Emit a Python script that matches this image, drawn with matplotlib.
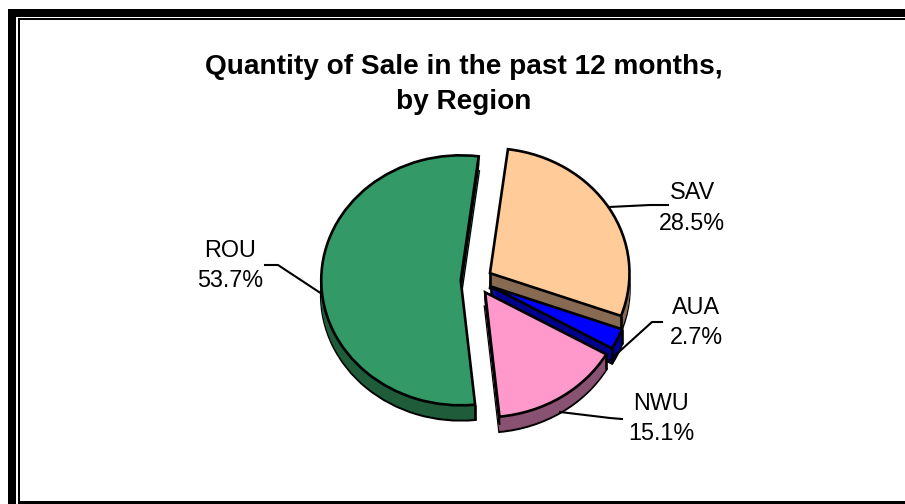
import matplotlib
matplotlib.use("Agg")
import numpy as np
import matplotlib.pyplot as plt
from matplotlib.lines import Line2D
from matplotlib.patches import Rectangle

regions = ["SAV", "AUA", "NWU", "ROU"]
shares = [28.5, 2.7, 15.1, 53.7]
top_colors = ["#FFCC99", "#0000FF", "#FF99CC", "#339966"]
wall_colors = ["#866B52", "#00008F", "#8A5272", "#1F5C3A"]
title_text = "Quantity of Sale in the past 12 months,\nby Region"

W, H = 905, 504
plt.rcParams["font.family"] = ["Liberation Sans", "DejaVu Sans"]
fig = plt.figure(figsize=(W / 100, H / 100), dpi=100, facecolor="white")
ax = fig.add_axes([0, 0, 1, 1])

CX, CY, RX, RY = 476.5, 280.5, 139.5, 125.0
DEPTH = 15 / RY
EXPLODE = [0.113] * 4
START = 82.6
LW = 1.9

def fx(x):
    return x / W

def fy(y):
    return 1 - y / H

base = {0: 10, 1: 20, 2: 30, 3: 40}
steps = 16
for k in range(steps):
    d = DEPTH * (1 - k / (steps - 1))
    wedges, _ = ax.pie(shares, explode=EXPLODE, startangle=START, counterclock=False,
                       center=(0, -d), radius=1)
    for i, w in enumerate(wedges):
        w.set_zorder(base[i] + k * 0.1)
        w.set_facecolor(wall_colors[i])
        if k == 0:
            w.set_edgecolor("black")
            w.set_linewidth(LW)
        else:
            w.set_edgecolor(wall_colors[i])
            w.set_linewidth(0.4)

tops, _ = ax.pie(shares, explode=EXPLODE, startangle=START, counterclock=False,
                 center=(0, 0), radius=1)
for i, w in enumerate(tops):
    w.set_zorder(base[i] + 3)
    w.set_facecolor(top_colors[i])
    w.set_edgecolor("black")
    w.set_linewidth(LW)
    w.set_joinstyle("miter")
    cx, cy = w.center
    p1 = (cx + np.cos(np.radians(w.theta1)), cy + np.sin(np.radians(w.theta1)))
    p2 = (cx + np.cos(np.radians(w.theta2)), cy + np.sin(np.radians(w.theta2)))
    if i >= 2:
        # radial walls seen edge-on: a thick black sliver
        s = DEPTH * 0.55
        ax.fill([cx, p1[0], p1[0], cx], [cy, p1[1], p1[1] - s, cy - s],
                facecolor="black", edgecolor="black", lw=LW * 0.6, zorder=base[i] + 2.6)
        verticals = [p2]
    else:
        verticals = [(cx, cy), p1, p2]
    for px, py in verticals:
        ax.plot([px, px], [py, py - DEPTH], color="black", lw=LW,
                zorder=base[i] + 2.5, solid_capstyle="butt")

ax.set_aspect("auto")
ax.set_xlim(-CX / RX, (W - CX) / RX)
ax.set_ylim(-(H - CY) / RY, CY / RY)
ax.axis("off")

# frame
fig.add_artist(Rectangle((fx(8), fy(504)), 8 / W, (504 - 9) / H, transform=fig.transFigure, fc="black", ec="none"))
fig.add_artist(Rectangle((fx(8), fy(16.5)), (905 - 8) / W, 7.5 / H, transform=fig.transFigure, fc="black", ec="none"))
fig.add_artist(Rectangle((fx(18), fy(19.5)), (905 - 18) / W, 1.5 / H, transform=fig.transFigure, fc="black", ec="none"))
fig.add_artist(Rectangle((fx(18), fy(504)), 1.5 / W, (504 - 18) / H, transform=fig.transFigure, fc="black", ec="none"))
fig.add_artist(Rectangle((fx(18), fy(504)), (905 - 18) / W, 3.5 / H, transform=fig.transFigure, fc="black", ec="none"))

# title
fig.text(fx(464), fy(84.5), title_text, ha="center", va="center", fontsize=20.15,
         fontweight="bold", color="black", linespacing=1.44)

# labels and leader lines
label_pos = {"SAV": (692, 208), "AUA": (696, 322.5), "NWU": (661, 418.5), "ROU": (230, 265.5)}
leaders = {
    "SAV": [(609, 207), (650, 205), (668, 205)],
    "AUA": [(610, 360), (652, 322), (662, 322)],
    "NWU": [(560, 412), (610, 418), (622, 419)],
    "ROU": [(322, 294), (278, 265), (265, 265)],
}
for name, share in zip(regions, shares):
    x, y = label_pos[name]
    fig.text(fx(x), fy(y), f"{name}\n{share:.1f}%", ha="center", va="center",
             fontsize=16.8, color="black", linespacing=1.43)
    xs, ys = zip(*leaders[name])
    fig.add_artist(Line2D([fx(v) for v in xs], [fy(v) for v in ys], color="black", lw=1.5,
                          transform=fig.transFigure))

fig.savefig("out.png", dpi=100)
